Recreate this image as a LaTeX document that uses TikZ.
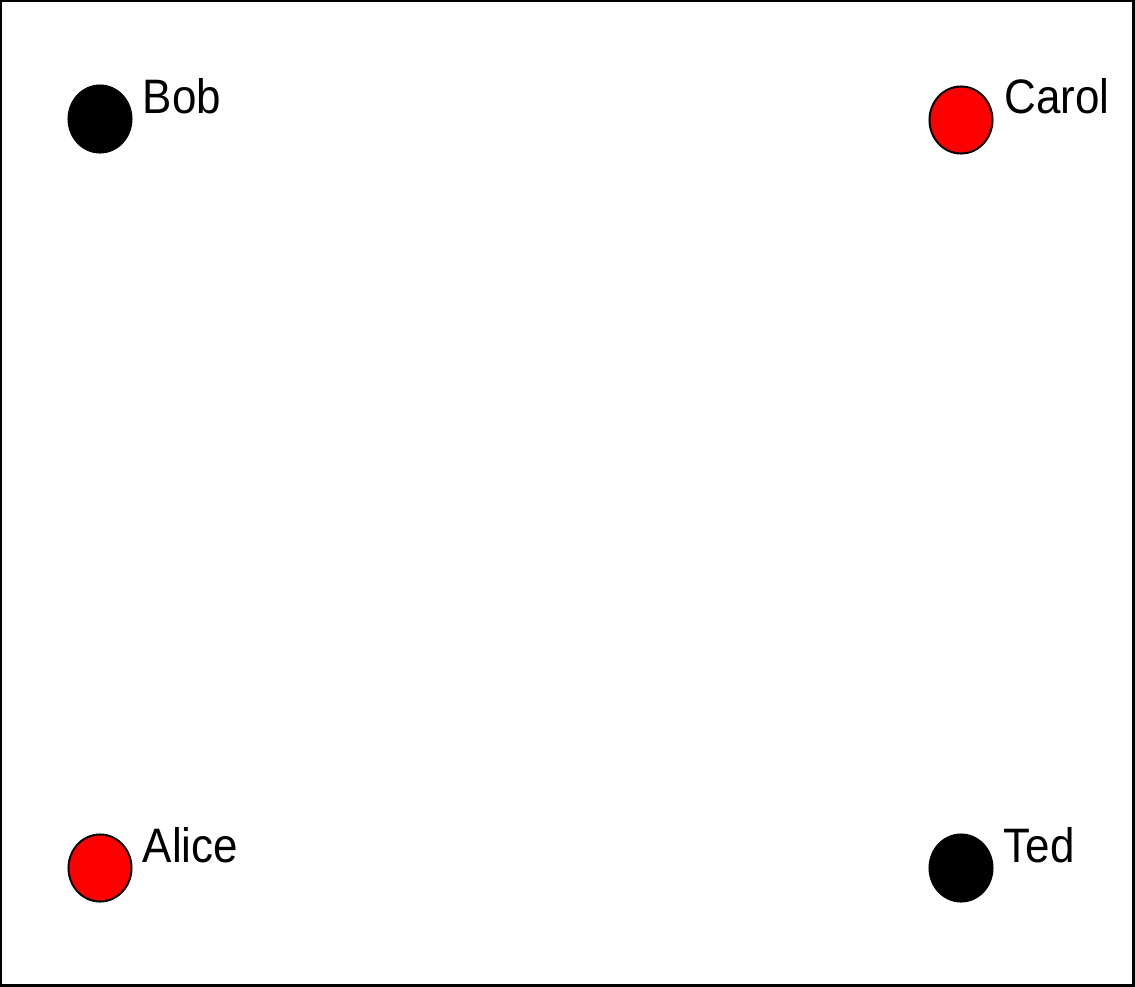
\documentclass[tikz,border=0pt]{standalone}
\usepackage{fontspec}
\setmainfont{Liberation Sans}
\usepackage{graphicx}
\usetikzlibrary{positioning,shapes.geometric}

\newcommand{\tall}[1]{\scalebox{1}[1.1]{#1}}

\begin{document}
\begin{tikzpicture}[
  x=0.01cm, y=-0.01cm,
  dot/.style={ellipse, draw, line width=0.02cm, minimum width=0.63cm, minimum height=0.67cm, inner sep=0pt},
  blk/.style={dot, fill=black},
  rd/.style={dot, fill=red},
  lbl/.style={font=\fontsize{12.5}{15}\selectfont, inner sep=0pt, anchor=base west}
]
  \useasboundingbox (0,0) rectangle (1135,987);
  \draw[line width=0.025cm] (0.5,0.5) rectangle (1133.5,985.5);

  \node[blk] (bob) at (100,119) {};
  \node[rd] (carol) at (961,120) {};
  \node[rd] (alice) at (100,868) {};
  \node[blk] (ted) at (961,868) {};

  \node[lbl] (bobname) at ([xshift=0.42cm, yshift=0.06cm]bob.center) {\tall{Bob}};
  \node[lbl] (carolname) at ([xshift=0.43cm, yshift=0.07cm]carol.center) {\tall{Carol}};
  \node[lbl] (alicename) at ([xshift=0.42cm, yshift=0.06cm]alice.center) {\tall{Alice}};
  \node[lbl] (tedname) at ([xshift=0.42cm, yshift=0.06cm]ted.center) {\tall{Ted}};
\end{tikzpicture}
\end{document}
